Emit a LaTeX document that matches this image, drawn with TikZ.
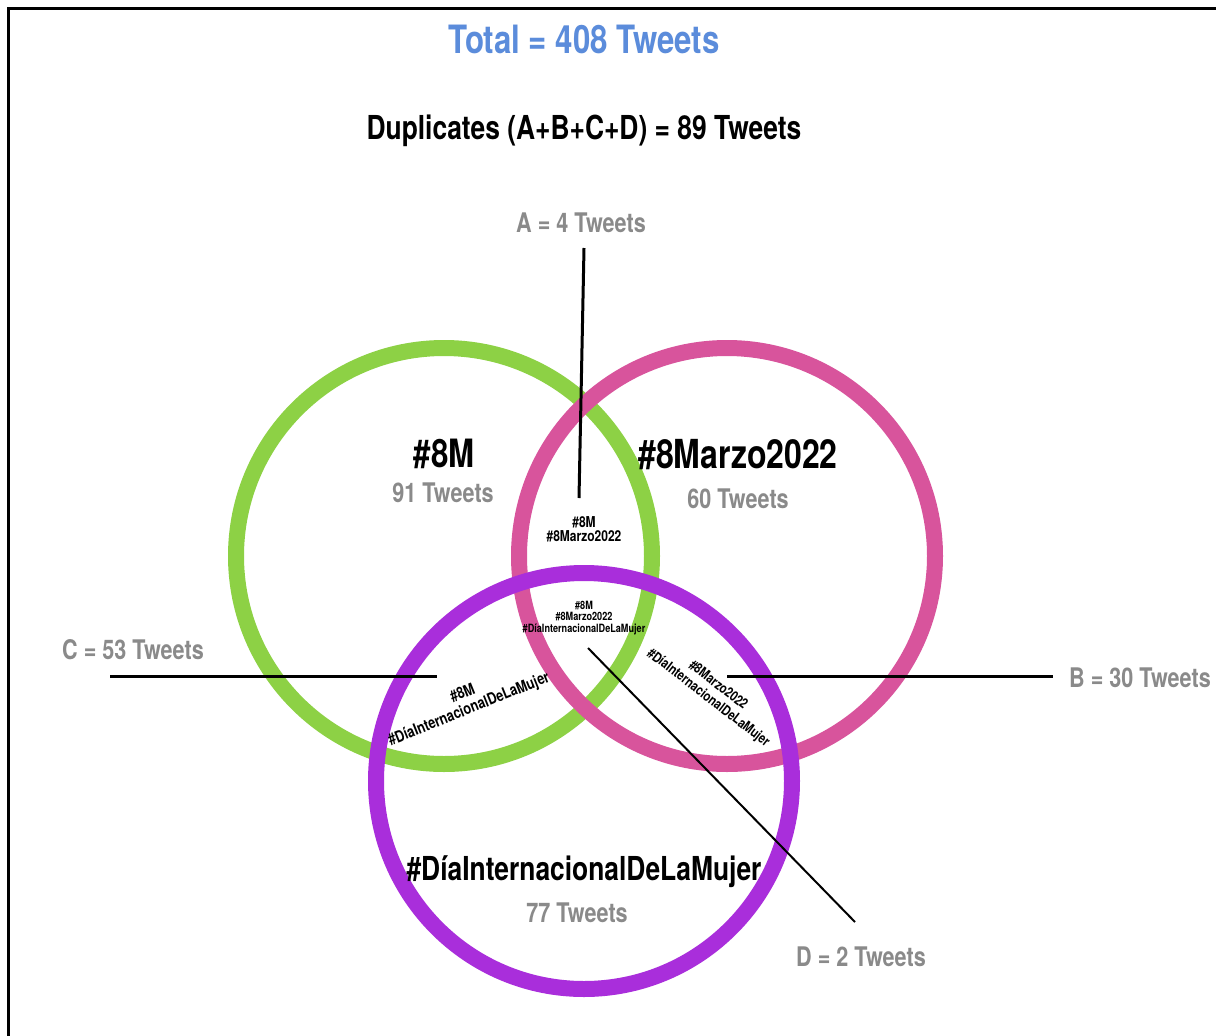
\documentclass[tikz,border=0pt]{standalone}
\usepackage{fontspec}
\setmainfont{TeX Gyre Heros}[FakeStretch=0.8]
\definecolor{ringgreen}{HTML}{8DD145}
\definecolor{ringpink}{HTML}{D8549C}
\definecolor{ringpurple}{HTML}{A92EDB}
\definecolor{countgray}{HTML}{8A8A8A}
\definecolor{totalblue}{HTML}{5B8CDB}
\newcommand{\sz}[2]{\fontsize{#1}{#2}\selectfont\bfseries}

\begin{document}
\begin{tikzpicture}[x=1pt, y=-1pt,
  ring/.style={line width=16pt},
  lead/.style={line width=3pt, black},
  tag/.style={inner sep=0pt, anchor=base, font=\sz{39}{39}},
  count/.style={inner sep=0pt, anchor=base, text=countgray, font=\sz{27}{27}},
  pair/.style={inner sep=0pt, align=center}]
\useasboundingbox (0,0) rectangle (1216,1036);
\fill[white] (0,0) rectangle (1216,1036);
\draw[line width=3pt] (8,1036) -- (8,8) -- (1216,8);

\node[inner sep=0pt, anchor=base, text=totalblue, font=\sz{39}{39}] (total) at (584,53) {Total = 408 Tweets};
\node[inner sep=0pt, anchor=base, font=\sz{33}{33}] (dup) at (584,139) {Duplicates (A+B+C+D) = 89 Tweets};

\draw[ring, ringgreen] (444,556) circle (208);
\draw[ring, ringpink] (727,556) circle (208);
\draw[ring, ringpurple] (584,781) circle (208);

\node[tag] (eightM) at (444,467) {\#8M};
\node[count] (eightMn) at (443,502) {91 Tweets};
\node[tag, font=\sz{40}{40}] (marzo) at (738,468) {\#8Marzo2022};
\node[count] (marzon) at (738,508) {60 Tweets};
\node[tag, font=\sz{33}{33}] (dia) at (584,880) {\#DíaInternacionalDeLaMujer};
\node[count] (dian) at (577,922) {77 Tweets};

\node[pair, font=\sz{15}{14}] (ab) at (584,529) {\#8M\\\#8Marzo2022};
\node[pair, font=\sz{11.4}{11.5}] (abc) at (584,618) {\#8M\\\#8Marzo2022\\\#DíaInternacionalDeLaMujer};
\node[pair, font=\sz{16}{17}, rotate=22] (ac) at (466,702) {\#8M\\\#DíaInternacionalDeLaMujer};
\node[pair, font=\sz{14}{16}, rotate=-37.6] (bc) at (713,692) {\#8Marzo2022\\\#DíaInternacionalDeLaMujer};

\node[count] (labA) at (581,232) {A = 4 Tweets};
\node[count] (labB) at (1140,687) {B = 30 Tweets};
\node[count] (labC) at (133,659) {C = 53 Tweets};
\node[count] (labD) at (861,966) {D = 2 Tweets};

\coordinate (aTop) at (584,248);
\coordinate (aEnd) at (579,498);
\coordinate (bEnd) at (1053,676);
\coordinate (bIn) at (727,676);
\coordinate (cEnd) at (110,676);
\coordinate (cIn) at (437,676);
\coordinate (dIn) at (588,648);
\coordinate (dEnd) at (855,922);
\draw[lead] (aTop) -- (aEnd);
\draw[lead] (bIn) -- (bEnd);
\draw[lead] (cEnd) -- (cIn);
\draw[lead, line width=2pt] (dIn) -- (dEnd);
\end{tikzpicture}
\end{document}
